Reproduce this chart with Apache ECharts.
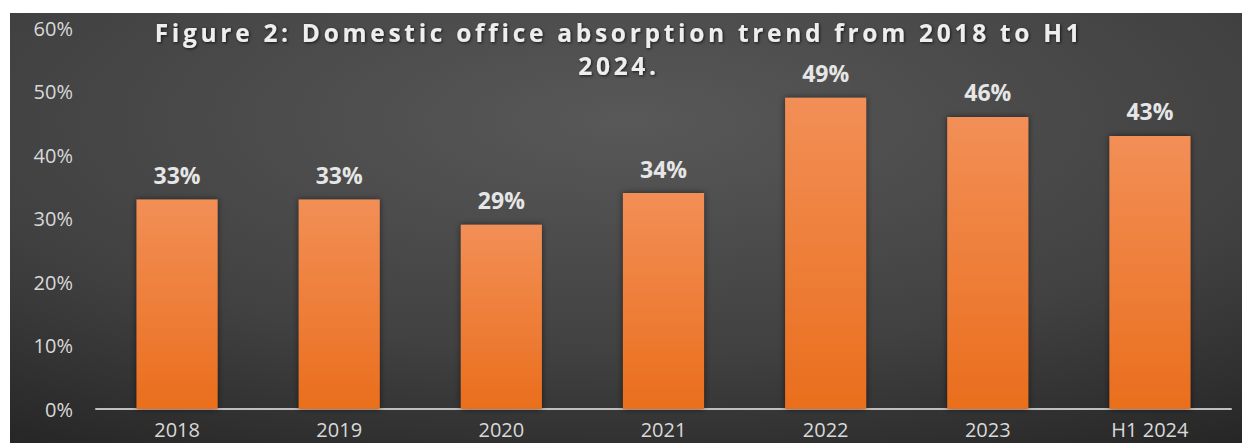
<!DOCTYPE html>
<html>
<head>
<meta charset="utf-8">
<script src="https://cdn.jsdelivr.net/npm/echarts@6/dist/echarts.min.js"></script>
<style>
html,body{margin:0;padding:0;background:#fff;}
#c{position:absolute;left:10px;top:13px;width:1232px;height:430px;}
</style>
</head>
<body>
<div id="c"></div>
<script>
const categories = ['2018', '2019', '2020', '2021', '2022', '2023', 'H1 2024'];
const absorption = [33, 33, 29, 34, 49, 46, 43];
const yTicks = [0, 10, 20, 30, 40, 50, 60];
const titleLines = ['Figure 2: Domestic office absorption trend from 2018 to H1', '2024.'];

const chart = echarts.init(document.getElementById('c'), null, {renderer: 'svg'});
function spaceTitle() {
  document.querySelectorAll('#c svg text').forEach(t => {
    if (titleLines.includes(t.textContent)) {
      t.style.letterSpacing = '3.7px';
    }
  });
}
chart.on('finished', spaceTitle);
chart.setOption({
  animation: false,
  backgroundColor: {
    type: 'radial', x: 0.5, y: 0.25, r: 0.9,
    colorStops: [
      {offset: 0, color: '#585858'},
      {offset: 0.6, color: '#414141'},
      {offset: 1, color: '#262626'}
    ]
  },
  title: {
    text: titleLines.join('\n'),
    left: 604, top: -2, textAlign: 'center',
    textStyle: {
      color: '#eeeeee', fontFamily: 'Open Sans', fontWeight: 'bold',
      fontSize: 24.5, lineHeight: 33,
      textShadowColor: 'rgba(0,0,0,0.7)', textShadowBlur: 3, textShadowOffsetX: 1, textShadowOffsetY: 1
    }
  },
  grid: {left: 86, right: 11, top: 15, bottom: 34, containLabel: false, outerBoundsMode: 'none'},
  xAxis: {
    type: 'category', data: categories,
    axisLine: {lineStyle: {color: '#bfbfbf', width: 2}},
    axisTick: {show: false},
    axisLabel: {color: '#d9d9d9', fontFamily: 'Open Sans', fontSize: 20, lineHeight: 20, margin: 10}
  },
  yAxis: {
    type: 'value', min: yTicks[0], max: yTicks[yTicks.length - 1], interval: 10,
    axisLine: {show: false}, axisTick: {show: false}, splitLine: {show: false},
    axisLabel: {color: '#d9d9d9', fontFamily: 'Open Sans', fontSize: 20, margin: 23,
      formatter: v => v + '%'}
  },
  series: [{
    type: 'bar', data: absorption, barWidth: '50%',
    itemStyle: {
      color: {type: 'linear', x: 0, y: 0, x2: 0, y2: 1,
        colorStops: [{offset: 0, color: '#f28f56'}, {offset: 1, color: '#ea6e1d'}]},
      shadowColor: 'rgba(0,0,0,0.55)', shadowBlur: 6
    },
    label: {
      show: true, position: 'top', distance: 13,
      formatter: p => p.value + '%',
      color: '#e6e6e6', fontFamily: 'Open Sans', fontWeight: 'bold', fontSize: 23
    }
  }]
});
spaceTitle();
</script>
</body>
</html>
